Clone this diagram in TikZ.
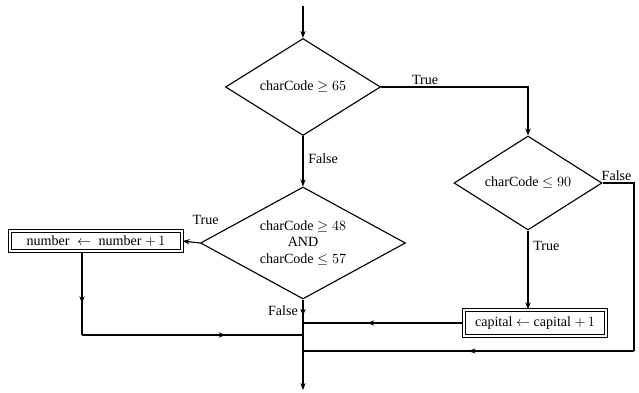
\documentclass[tikz,border=0pt]{standalone}
\usepackage{fontspec}
\setmainfont{Liberation Serif}
\usetikzlibrary{shapes.geometric, arrows.meta, decorations.markings}

\tikzset{
    decision/.style={diamond, draw, thick, inner sep=0pt, align=center,
        font=\normalsize},
    process/.style={rectangle, draw, thick, double, double distance=1pt,
        inner sep=2pt, font=\normalsize},
    lbl/.style={font=\normalsize},
    midarrow/.style={postaction={decorate}, decoration={markings,
        mark=at position #1 with {\arrow{Stealth[length=5pt]}}}},
    midarrow/.default=0.5
}

\begin{document}
\begin{tikzpicture}[x=0.025cm, y=-0.025cm, >={Stealth[length=5pt]}, thick]
    \useasboundingbox (0,0) rectangle (639,393);

    \coordinate (start) at (303,6);
    \node[decision, aspect=1.6, minimum width=155*0.025cm,
        minimum height=97*0.025cm]
        (upper) at (303,87) {charCode $\geq 65$};
    \node[decision, aspect=1.6, minimum width=148*0.025cm,
        minimum height=94*0.025cm]
        (nine) at (528,183) {charCode $\leq 90$};
    \node[decision, aspect=1.83, minimum width=205*0.025cm,
        minimum height=112*0.025cm]
        (digit) at (303,243) {charCode $\geq 48$\\AND\\charCode $\leq 57$};
    \node[process, minimum width=172*0.025cm, minimum height=20*0.025cm]
        (num) at (96,241) {number $\;\leftarrow\;$ number $+\,1$};
    \node[process, minimum width=142*0.025cm, minimum height=26*0.025cm]
        (cap) at (535,323) {capital $\leftarrow$ capital $+\,1$};
    \coordinate (stop) at (303,390);
    \coordinate (numturn) at (82,335);
    \coordinate (falseturn) at (634,183);
    \coordinate (falsedown) at (634,351);

    % main flow
    \draw[->] (start) -- (upper.north);
    \draw[->] (upper.east) -- node[lbl, pos=0.3, above, inner sep=1pt] {True}
        (upper.east -| nine.north) -- (nine.north);
    \draw[->] (upper.south) -- node[lbl, right, pos=0.45] {False} (digit.north);
    \draw[->] (digit.west) node[lbl, above=9pt, xshift=4pt] {True} -- (num.east);
    \draw[->] (nine.south) -- node[lbl, right, pos=0.2] {True}
        (nine.south |- cap.north);
    \draw[midarrow=0.18, ->] (digit.south) -- node[lbl, left, pos=0.12] {False}
        (stop);

    % joins into the main line
    \draw[midarrow=0.6] (cap.west) -- (cap.west -| digit.south);
    \draw[midarrow=0.62] (num.south -| numturn) -- (numturn);
    \draw[midarrow=0.65] (numturn) -- (numturn -| digit.south);
    \draw (nine.east) node[lbl, above right, inner sep=1pt, xshift=-2pt] {False}
        -- (falseturn) -- (falsedown);
    \draw[midarrow=0.5] (falsedown) -- (falsedown -| digit.south);
\end{tikzpicture}
\end{document}
